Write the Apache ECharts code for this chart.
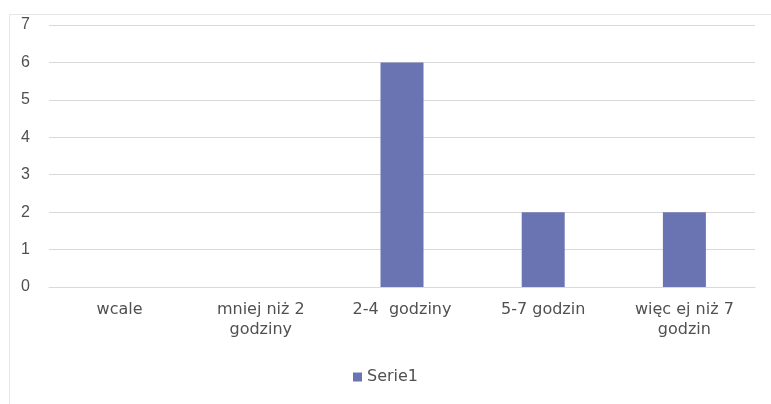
<!DOCTYPE html>
<html>
<head>
<meta charset="utf-8">
<script src="https://cdn.jsdelivr.net/npm/echarts@6/dist/echarts.min.js"></script>
<style>html,body{margin:0;padding:0;background:#fff}#c{width:771px;height:404px}</style>
</head>
<body>
<div id="c"></div>
<script>
const categories = ["wcale", "mniej niż 2\ngodziny", "2-4  godziny", "5-7 godzin", "więc ej niż 7\ngodzin"];
const seriesName = "Serie1";
const values = [0, 0, 6, 2, 2];
const yMin = 0, yMax = 7, yInterval = 1;

const chart = echarts.init(document.getElementById('c'), null, {renderer: 'canvas'});
chart.setOption({
  animation: false,
  backgroundColor: '#ffffff',
  graphic: [{
    type: 'rect', left: 7, top: 12, silent: true,
    shape: {x: 0.5, y: 0.5, width: 900, height: 600},
    style: {fill: 'none', stroke: '#e6e6e6', lineWidth: 1}
  }],
  grid: {left: 49, right: 16, top: 25, bottom: 117, containLabel: false},
  legend: {
    data: [seriesName], bottom: 14, left: 'center',
    icon: 'rect', itemWidth: 9, itemHeight: 9, itemGap: 5,
    textStyle: {color: '#505050', fontFamily: 'DejaVu Sans', fontSize: 16}
  },
  xAxis: {
    type: 'category', data: categories,
    axisLine: {show: true, lineStyle: {color: '#d9d9d9'}},
    axisTick: {show: false},
    axisLabel: {color: '#505050', fontFamily: 'DejaVu Sans', fontSize: 16, lineHeight: 20, margin: 13, interval: 0}
  },
  yAxis: {
    type: 'value', min: yMin, max: yMax, interval: yInterval,
    axisLine: {show: false}, axisTick: {show: false},
    splitLine: {lineStyle: {color: '#d9d9d9'}},
    axisLabel: {color: '#505050', fontFamily: 'Liberation Sans', fontSize: 16, margin: 19}
  },
  series: [{
    name: seriesName, type: 'bar', data: values, barWidth: 43,
    itemStyle: {color: '#6b74b3'}
  }]
});
</script>
</body>
</html>
